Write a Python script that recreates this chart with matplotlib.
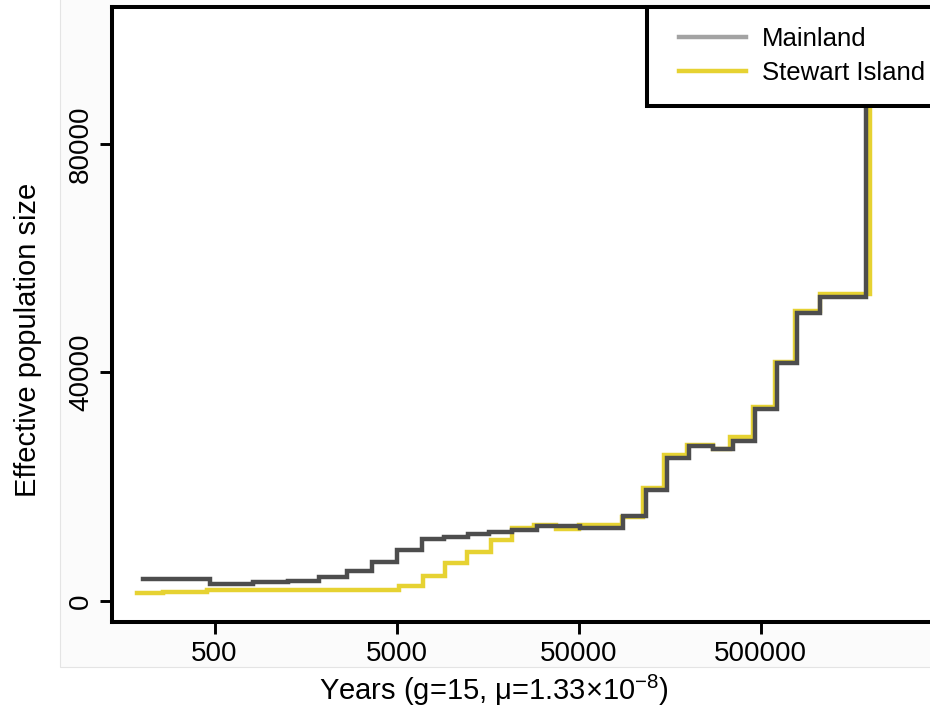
import matplotlib
matplotlib.use("Agg")
import matplotlib.pyplot as plt
from matplotlib.lines import Line2D
from matplotlib.patches import Rectangle
from matplotlib.legend_handler import HandlerLine2D
from matplotlib.ticker import NullLocator

plt.rcParams['font.family'] = ['Liberation Sans', 'DejaVu Sans']
plt.rcParams['mathtext.fontset'] = 'custom'
plt.rcParams['mathtext.rm'] = 'Liberation Sans'
plt.rcParams['mathtext.it'] = 'Liberation Sans:italic'

# PSMC step curves: start year of each interval and the Ne within it
mainland_years = [202, 472, 814, 1267, 1876, 2673, 3668, 5032, 6903, 9120, 12355,
                  16114, 21561, 29580, 50955, 87800, 117400, 153200, 202300, 274100,
                  353100, 466400, 616000, 793300, 1061000, 1899000]
mainland_ne = [3850, 2975, 3270, 3550, 4150, 5250, 6825, 8925, 10850, 11250, 11780,
               12020, 12425, 13070, 12775, 14875, 19425, 24970, 27125, 26600,
               28000, 33600, 41600, 50350, 53250, 150000]

stewart_years = [188, 261, 455, 5160, 6991, 9239, 12199, 16526, 21561, 28470, 37612,
                 50315, 86700, 113000, 147500, 197300, 274100, 340000, 454800,
                 600600, 773600, 1061000, 1998000]
stewart_ne = [1350, 1630, 1925, 2625, 4430, 6600, 8520, 10675, 12720, 13300, 12550,
              13300, 14750, 19720, 25550, 27300, 26600, 28750, 34000, 41880, 50800,
              53725, 150000]

x_ticks = [500, 5000, 50000, 500000]
y_ticks = [0, 40000, 80000]
series_names = ["Mainland", "Stewart Island"]

grey = "#4d4d4d"
grey_key = "#a3a3a3"
yellow = "#e6d232"
t_end = 1e7
lw = 3.2

fig = plt.figure(figsize=(9.3, 7.1), dpi=100)
fig.patch.set_facecolor("white")
backdrop = Rectangle((60 / 930, 43 / 710), 1.0, 1.0, transform=fig.transFigure,
                     facecolor="#fbfbfb", edgecolor="#e4e4e4", lw=0.8, zorder=-5)
fig.add_artist(backdrop)

# axes runs a little past the right edge of the canvas
ax = fig.add_axes([112 / 930, 88 / 710, 824 / 930, 615.5 / 710])
ax.set_zorder(1)
ax.set_facecolor("white")

ax.step(stewart_years + [t_end], stewart_ne + [stewart_ne[-1]], where="post",
        color=yellow, lw=lw, solid_joinstyle="miter", zorder=2)
ax.step(mainland_years + [t_end], mainland_ne + [mainland_ne[-1]], where="post",
        color=grey, lw=lw, solid_joinstyle="miter", zorder=3)

ax.set_xscale("log")
ax.set_xlim(136.7, 4.6e6)
ax.set_ylim(-3675, 104040)

ax.set_xticks(x_ticks)
ax.set_xticklabels([str(v) for v in x_ticks])
ax.xaxis.set_minor_locator(NullLocator())
ax.set_yticks(y_ticks)
ax.set_yticklabels([str(v) for v in y_ticks], rotation=90, va="center")

for s in ax.spines.values():
    s.set_linewidth(2.9)
    s.set_color("black")
ax.tick_params(axis="both", direction="out", length=8.5, width=2.1, color="black",
               labelsize=20)
ax.tick_params(axis="x", pad=5.5)
ax.tick_params(axis="y", pad=4.5)

ax.set_xlabel(r"Years (g=15, μ=1.33×10$^{-8}$)", fontsize=21)
ax.xaxis.set_label_coords(0.4636, -0.1105)
ax.xaxis.label.set_va("center")
ax.set_ylabel("Effective population size", fontsize=21)
ax.yaxis.set_label_coords(-0.102, 0.458)
ax.yaxis.label.set_va("center")

handles = [Line2D([], [], color=grey_key, lw=lw),
           Line2D([], [], color=yellow, lw=lw)]
leg = ax.legend(handles, series_names, loc="upper left",
                bbox_to_anchor=((647 - 112) / 824, 1.0), borderaxespad=0,
                fontsize=18.5, frameon=True, fancybox=False, handlelength=3.07,
                handletextpad=0.62, labelspacing=0.4, borderpad=0.8,
                handler_map={Line2D: HandlerLine2D(xpad=0.43)})
leg.get_frame().set_edgecolor("black")
leg.get_frame().set_linewidth(2.9)
leg.get_frame().set_alpha(1)
leg.set_zorder(5)

fig.savefig("out.png", dpi=100)
